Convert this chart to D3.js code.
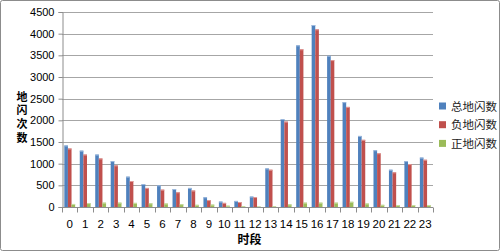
<!DOCTYPE html>
<html>
<head>
<meta charset="utf-8">
<script src="https://cdn.jsdelivr.net/npm/d3@7"></script>
<style>
  body { margin: 0; background: #fff; }
  svg { display: block; }
</style>
</head>
<body>
<div id="chart"></div>
<script>
const hours = d3.range(0, 24).map(String);
const seriesNames = ["总地闪数", "负地闪数", "正地闪数"];
const totalFlash = [1420, 1300, 1210, 1060, 700, 530, 500, 415, 440, 225, 125, 140, 240, 890, 2030, 3730, 4200, 3490, 2420, 1640, 1310, 860, 1060, 1140];
const negFlash = [1350, 1210, 1120, 960, 600, 440, 400, 340, 380, 160, 95, 115, 230, 860, 1970, 3640, 4100, 3390, 2310, 1550, 1240, 800, 990, 1090];
const posFlash = [70, 90, 100, 100, 95, 85, 80, 65, 50, 55, 30, 20, 10, 15, 60, 100, 100, 100, 120, 80, 50, 45, 45, 45];
const yTicks = [0, 500, 1000, 1500, 2000, 2500, 3000, 3500, 4000, 4500];

const colors = ["#4F81BD", "#C0504D", "#9BBB59"];
const highlights = ["#9DB9DD", "#E09A98", "#C9DDA2"];

const width = 500, height = 251;
const margin = { top: 12, right: 67, bottom: 44, left: 62 };
const numFont = "'Liberation Sans', 'DejaVu Sans', sans-serif";
const cjkFont = "'Noto Sans CJK SC', sans-serif";

const svg = d3.select("#chart").append("svg")
  .attr("width", width)
  .attr("height", height);

// outer border
svg.append("rect")
  .attr("x", 0.5).attr("y", 0.5)
  .attr("width", width - 1).attr("height", height - 1)
  .attr("rx", 2)
  .attr("fill", "#fff")
  .attr("stroke", "#8c8c8c");

const x = d3.scaleBand()
  .domain(hours)
  .range([margin.left, width - margin.right])
  .paddingInner(0.3)
  .paddingOuter(0.15);

const y = d3.scaleLinear()
  .domain([0, 4500])
  .range([height - margin.bottom, margin.top]);

const xSub = d3.scaleBand()
  .domain([0, 1, 2])
  .range([0, x.bandwidth()]);

// gridlines
svg.append("g")
  .selectAll("line")
  .data(yTicks.slice(1))
  .join("line")
  .attr("x1", margin.left)
  .attr("x2", width - margin.right)
  .attr("y1", d => Math.round(y(d)) + 0.5)
  .attr("y2", d => Math.round(y(d)) + 0.5)
  .attr("stroke", "#a6a6a6");

// y axis
const yAxis = svg.append("g")
  .attr("transform", `translate(${margin.left + 0.5}, 0)`)
  .call(d3.axisLeft(y).tickValues(yTicks).tickFormat(d3.format("d")).tickSize(4).tickPadding(4));
yAxis.select(".domain").attr("stroke", "#8c8c8c");
yAxis.selectAll(".tick line").attr("stroke", "#8c8c8c");
yAxis.selectAll("text")
  .style("font-family", numFont)
  .style("font-size", "11px")
  .attr("fill", "#000");

// bars
const seriesData = [totalFlash, negFlash, posFlash];
seriesData.forEach((vals, s) => {
  const g = svg.append("g");
  g.selectAll("rect")
    .data(vals)
    .join("rect")
    .attr("x", (d, i) => x(hours[i]) + xSub(s))
    .attr("y", d => y(d))
    .attr("width", xSub.bandwidth())
    .attr("height", d => y(0) - y(d))
    .attr("fill", colors[s]);
  g.selectAll("line")
    .data(vals)
    .join("line")
    .attr("x1", (d, i) => x(hours[i]) + xSub(s))
    .attr("x2", (d, i) => x(hours[i]) + xSub(s) + xSub.bandwidth())
    .attr("y1", d => y(d) + 0.5)
    .attr("y2", d => y(d) + 0.5)
    .attr("stroke", highlights[s]);
});

// x axis
const step = x.step();
const xAxis = svg.append("g")
  .attr("transform", `translate(0, ${Math.round(y(0)) + 0.5})`);
xAxis.append("line")
  .attr("x1", margin.left)
  .attr("x2", width - margin.right)
  .attr("stroke", "#8c8c8c");
xAxis.selectAll("line.tk")
  .data(d3.range(0, hours.length + 1))
  .join("line")
  .attr("class", "tk")
  .attr("x1", i => Math.round(margin.left + i * step) + 0.5)
  .attr("x2", i => Math.round(margin.left + i * step) + 0.5)
  .attr("y1", 0)
  .attr("y2", 5)
  .attr("stroke", "#8c8c8c");
xAxis.selectAll("text")
  .data(hours)
  .join("text")
  .attr("x", d => x(d) + x.bandwidth() / 2)
  .attr("y", 20)
  .attr("text-anchor", "middle")
  .style("font-family", numFont)
  .style("font-size", "11.5px")
  .text(d => d);

// axis titles
svg.append("text")
  .attr("x", (margin.left + width - margin.right) / 2 + 2)
  .attr("y", 244)
  .attr("text-anchor", "middle")
  .style("font-family", cjkFont)
  .style("font-size", "12px")
  .style("font-weight", "bold")
  .text("时段");

// vertical y title, written top to bottom
svg.append("text")
  .attr("x", 22)
  .attr("y", 91)
  .style("writing-mode", "vertical-rl")
  .style("font-family", cjkFont)
  .style("font-size", "11px")
  .style("font-weight", "bold")
  .style("letter-spacing", "2.8px")
  .text("地闪次数");

// legend
const legend = svg.append("g")
  .attr("transform", `translate(439, 106)`);
seriesNames.forEach((name, i) => {
  const item = legend.append("g")
    .attr("transform", `translate(0, ${i * 18.7})`);
  item.append("rect")
    .attr("x", 0)
    .attr("y", -3.5)
    .attr("width", 7)
    .attr("height", 7)
    .attr("fill", colors[i]);
  item.append("text")
    .attr("x", 12)
    .attr("y", 4.5)
    .style("font-family", cjkFont)
    .style("font-size", "11.5px")
    .attr("fill", "#222")
    .text(name);
});
</script>
</body>
</html>
